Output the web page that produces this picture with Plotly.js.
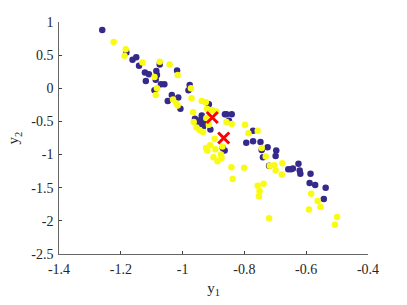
<!DOCTYPE html>
<html><head><meta charset="utf-8">
<script src="https://cdn.plot.ly/plotly-3.0.1.min.js"></script>
<style>html,body{margin:0;padding:0;background:#fff}#c{width:407px;height:305px}</style>
</head><body><div id="c"></div>
<script>
const navyX = [-1.26,-1.182,-1.162,-1.150,-1.141,-1.074,-1.018,-1.122,-1.109,-1.085,-1.083,-1.087,-1.119,-1.070,-1.059,-1.091,-0.977,-0.981,-1.035,-1.014,-1.048,-1.007,-0.915,-0.863,-0.960,-0.938,-0.953,-0.942,-0.932,-0.947,-0.934,-0.921,-0.910,-0.858,-0.841,-0.850,-0.772,-0.794,-0.772,-0.748,-0.725,-0.697,-0.699,-0.744,-0.740,-0.720,-0.658,-0.649,-0.643,-0.625,-0.621,-0.619,-0.586,-0.589,-0.571,-0.537,-0.543,-0.870,-0.864];
const navyY = [0.88,0.54,0.43,0.47,0.34,0.36,0.27,0.24,0.21,0.26,0.20,0.13,0.11,0.06,0.06,-0.03,0.05,-0.03,-0.10,-0.14,-0.19,-0.31,-0.24,-0.39,-0.46,-0.41,-0.50,-0.48,-0.53,-0.54,-0.58,-0.52,-0.62,-0.39,-0.39,-0.49,-0.64,-0.82,-0.80,-0.81,-0.89,-0.94,-1.02,-0.93,-1.04,-1.17,-1.22,-1.22,-1.21,-1.14,-1.24,-1.29,-1.29,-1.43,-1.46,-1.50,-1.67,-0.90,-0.94];
const yellowX = [-1.223,-1.184,-1.188,-1.130,-1.074,-1.042,-1.016,-1.091,-1.083,-1.087,-0.973,-1.031,-1.016,-1.020,-0.971,-0.938,-0.925,-0.966,-0.921,-0.904,-0.891,-0.964,-0.955,-0.945,-0.934,-0.915,-0.923,-0.858,-0.841,-0.798,-0.787,-0.757,-0.744,-0.731,-0.718,-0.703,-0.677,-0.699,-0.679,-0.896,-0.924,-0.920,-0.911,-0.894,-0.900,-0.887,-0.874,-0.876,-0.871,-0.842,-0.801,-0.838,-0.757,-0.738,-0.751,-0.753,-0.584,-0.563,-0.554,-0.591,-0.500,-0.507,-0.720];
const yellowY = [0.70,0.59,0.49,0.39,0.40,0.36,0.20,0.17,0.00,-0.10,0.00,-0.17,-0.26,-0.23,-0.15,-0.19,-0.21,-0.36,-0.31,-0.33,-0.35,-0.51,-0.59,-0.63,-0.66,-0.55,-0.45,-0.51,-0.54,-0.55,-0.68,-0.64,-0.90,-1.03,-1.17,-1.16,-1.13,-1.24,-1.30,-0.76,-0.90,-0.94,-0.86,-0.92,-1.04,-1.10,-1.05,-1.00,-0.88,-1.19,-1.20,-1.37,-1.47,-1.44,-1.55,-1.63,-1.59,-1.70,-1.79,-1.83,-1.94,-2.06,-1.96];
const centX = [-0.904,-0.867];
const centY = [-0.44,-0.75];
const xTicks = [-1.4,-1.2,-1,-0.8,-0.6,-0.4];
const xTickText = ['-1.4','-1.2','-1','-0.8','-0.6','-0.4'];
const yTicks = [-2.5,-2,-1.5,-1,-0.5,0,0.5,1];
const yTickText = ['-2.5','-2','-1.5','-1','-0.5','0','0.5','1'];

const traces = [
  {x: navyX, y: navyY, mode:'markers', type:'scatter', marker:{color:'#35298c', size:6.5}},
  {x: yellowX, y: yellowY, mode:'markers', type:'scatter', marker:{color:'#f9fb15', size:6.5}},
  {x: centX, y: centY, mode:'markers', type:'scatter', marker:{symbol:'x-thin', size:11, color:'#ff0000', line:{color:'#ff0000', width:3}}}
];
const fam = '"Liberation Serif", "Times New Roman", serif';
const font = {family:fam, size:14, color:'#262626'};
const layout = {
  width:407, height:305, showlegend:false,
  margin:{l:59, r:39, t:22, b:51},
  paper_bgcolor:'#fff', plot_bgcolor:'#fff',
  font: font,
  xaxis:{range:[-1.4,-0.4], tickvals:xTicks, ticktext:xTickText, ticks:'inside', ticklen:3, tickcolor:'#404040',
    showline:true, linecolor:'#404040', linewidth:0.8, showgrid:false, zeroline:false, mirror:false,
    ticklabelstandoff:2,
    tickfont:font, title:{text:'y<sub>1</sub>', font:{family:fam, size:15, color:'#262626'}, standoff:6}},
  yaxis:{range:[-2.5,1], tickvals:yTicks, ticktext:yTickText, ticks:'inside', ticklen:3, tickcolor:'#404040',
    showline:true, linecolor:'#404040', linewidth:0.8, showgrid:false, zeroline:false, mirror:false,
    ticklabelstandoff:2,
    tickfont:font, title:{text:'y<sub>2</sub>', font:{family:fam, size:15, color:'#262626'}, standoff:8}}
};
Plotly.newPlot('c', traces, layout, {staticPlot:true, displayModeBar:false});
</script></body></html>
